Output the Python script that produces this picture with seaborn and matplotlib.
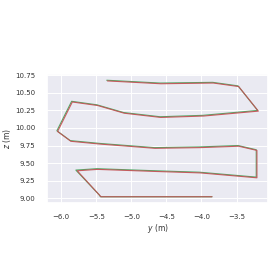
import matplotlib
matplotlib.use("Agg")
import matplotlib.pyplot as plt
import seaborn as sns
import pandas as pd

sns.set_theme(style="darkgrid")

# ground truth trajectory (y, z)
y_true = [-3.85, -5.44, -5.46, -5.79, -5.49, -4.65, -4.03, -3.22, -3.22, -3.48,
          -4.03, -4.67, -5.45, -5.87, -6.06, -5.85, -5.49, -5.11, -4.59, -3.98,
          -3.20, -3.48, -3.84, -4.59, -5.35]
z_true = [9.02, 9.02, 9.05, 9.40, 9.42, 9.39, 9.37, 9.30, 9.69, 9.75,
          9.73, 9.72, 9.78, 9.82, 9.96, 10.38, 10.33, 10.22, 10.16, 10.18,
          10.25, 10.60, 10.65, 10.64, 10.68]
# estimated trajectory
y_est = [-3.85, -5.43, -5.45, -5.77, -5.48, -4.64, -4.02, -3.21, -3.21, -3.47,
         -4.02, -4.66, -5.44, -5.86, -6.05, -5.84, -5.48, -5.10, -4.58, -3.97,
         -3.19, -3.47, -3.83, -4.58, -5.34]
z_est = [9.02, 9.02, 9.04, 9.39, 9.41, 9.38, 9.36, 9.29, 9.68, 9.74,
         9.72, 9.71, 9.77, 9.81, 9.95, 10.37, 10.32, 10.21, 10.15, 10.17,
         10.24, 10.59, 10.64, 10.63, 10.67]

gt = pd.DataFrame({"y": y_true, "z": z_true})
est = pd.DataFrame({"y": y_est, "z": z_est})

fig, ax = plt.subplots(figsize=(2.77, 2.77), dpi=100)
fig.subplots_adjust(left=0.169, right=0.969, bottom=0.1, top=0.9)

sns.lineplot(data=gt, x="y", y="z", sort=False, estimator=None,
             color="#55a868", lw=0.8, ax=ax)
sns.lineplot(data=est, x="y", y="z", sort=False, estimator=None,
             color="#c44e52", lw=0.8, alpha=0.9, ax=ax)

ax.set_aspect("equal")
ax.set_xticks([-6.0, -5.5, -5.0, -4.5, -4.0, -3.5])
ax.set_yticks([9.0, 9.25, 9.5, 9.75, 10.0, 10.25, 10.5, 10.75])
ax.tick_params(labelsize=5, pad=2.5, labelcolor="#333333")
ax.set_xlabel("$y$ (m)", fontsize=5.5, labelpad=1.5, color="#333333")
ax.set_ylabel("$z$ (m)", fontsize=5.5, labelpad=1.5, color="#333333")
for ln in ax.get_xgridlines() + ax.get_ygridlines():
    ln.set_linewidth(0.7)

fig.savefig("out.png", dpi=100)
